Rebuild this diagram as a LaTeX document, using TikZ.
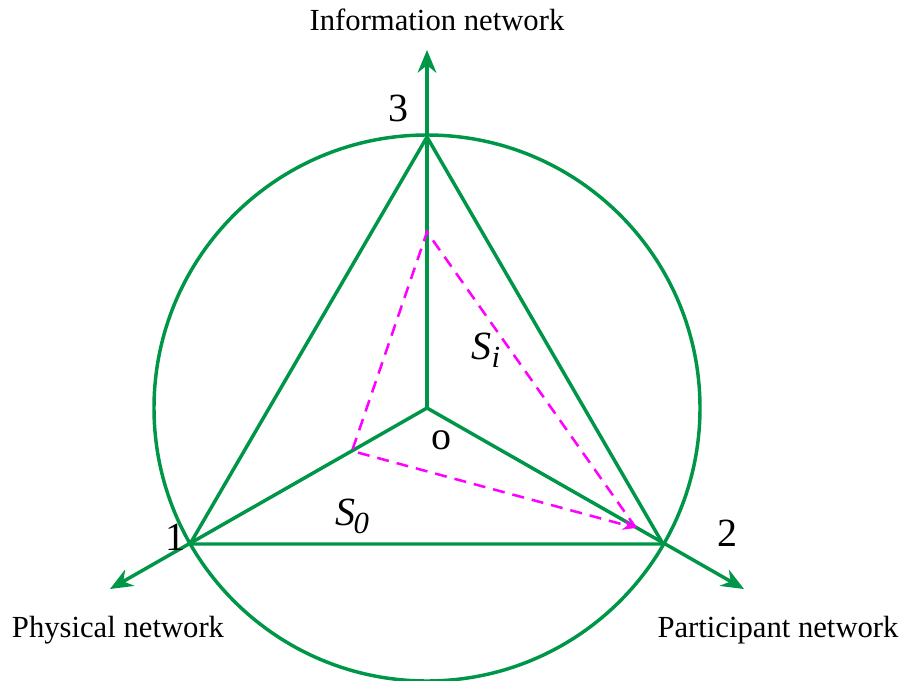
\documentclass[tikz,border=0pt]{standalone}
\usepackage{fontspec}
\setmainfont{Liberation Serif}
\usetikzlibrary{arrows.meta}
\definecolor{netgreen}{RGB}{0,150,72}
\definecolor{netpink}{RGB}{255,0,255}

\begin{document}
\begin{tikzpicture}[x=.75pt,y=-.75pt,gr/.style={draw=netgreen,line width=2.6pt},ax/.style={gr,-{Stealth[length=17pt,width=14pt]}},pk/.style={draw=netpink,line width=1.9pt,dash pattern=on 9pt off 6pt},lab/.style={font=\fontsize{23}{27}\selectfont},num/.style={font=\fontsize{30}{34}\selectfont}]
\useasboundingbox (0,0) rectangle (904,681);
% centre, vertices and axis ends
\coordinate (o) at (427,408);\coordinate (v3) at (427,137);\coordinate (v1) at (190,544);\coordinate (v2) at (663,544);
\coordinate (a3) at (427,50);\coordinate (a1) at (110,589);\coordinate (a2) at (744,589);
\coordinate (p3) at (427,232);\coordinate (p1) at (352,451);\coordinate (p2) at (636,528);
\draw[gr] (o) circle (273);
\foreach \i in {1,2,3}{\draw[ax] (o)--(a\i);}
\draw[gr,line join=miter] (v1)--(v2)--(v3)--cycle;
\draw[pk,-{Stealth[length=10pt,width=8pt]}] (p2)--(p3)--(p1)--(p2);
\node[num] (n3) at (398,108){3};\node[num] (n1) at (175,537){1};\node[num] (n2) at (727,533){2};
\node[num] (no) at (441,440){o};
\node[num,font=\fontsize{30}{34}\selectfont\itshape] (s0) at (352,516){S\kern-1pt\raisebox{-6pt}{\fontsize{23}{26}\selectfont 0}};
\node[num,font=\fontsize{30}{34}\selectfont\itshape] (si) at (486,350){S\raisebox{-6pt}{\fontsize{23}{26}\selectfont i}};
\node[lab] (t3) at (437,20){Information network};
\node[lab] (t1) at (118,630){Physical network};
\node[lab] (t2) at (778,630){Participant network};
\end{tikzpicture}
\end{document}
